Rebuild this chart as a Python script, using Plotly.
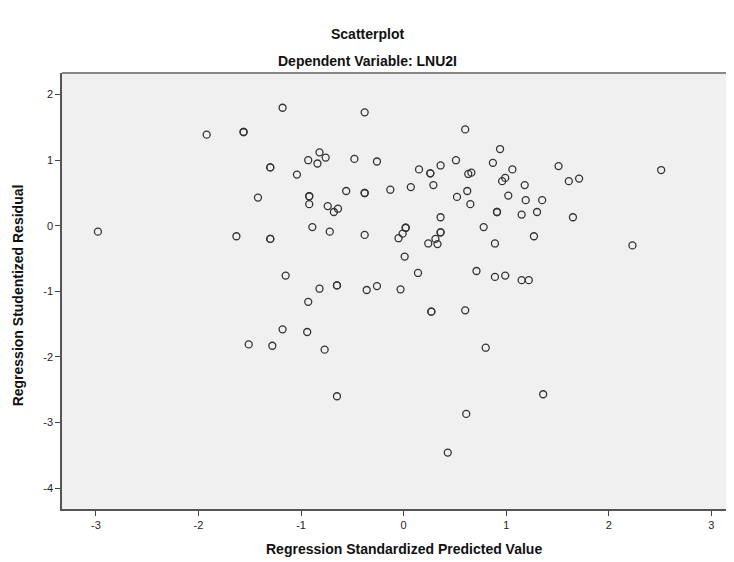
import plotly.graph_objects as go

# Regression Standardized Predicted Value
pred = [-2.98, -1.92, -1.63, -1.56, -1.56, -1.51, -1.42, -1.30, -1.30, -1.30,
        -1.30, -1.28, -1.18, -1.18, -1.15, -1.04, -0.93, -0.93, -0.94, -0.92,
        -0.92, -0.92, -0.89, -0.84, -0.82, -0.82, -0.77, -0.76, -0.74, -0.72,
        -0.68, -0.64, -0.65, -0.65, -0.65, -0.56, -0.48, -0.38, -0.38, -0.38,
        -0.38, -0.36, -0.26, -0.26, -0.13, -0.05, -0.03, -0.01, 0.02, 0.02,
        0.01, 0.07, 0.14, 0.15, 0.24, 0.26, 0.26, 0.27, 0.27, 0.29,
        0.31, 0.33, 0.36, 0.36, 0.36, 0.36, 0.43, 0.51, 0.52, 0.60,
        0.60, 0.61, 0.62, 0.63, 0.66, 0.65, 0.71, 0.78, 0.80, 0.87,
        0.89, 0.89, 0.91, 0.91, 0.94, 0.96, 0.99, 0.99, 1.02, 1.06,
        1.15, 1.15, 1.18, 1.19, 1.22, 1.27, 1.30, 1.35, 1.36, 1.51,
        1.61, 1.65, 1.71, 2.23, 2.51]

# Regression Studentized Residual
resid = [-0.09, 1.39, -0.16, 1.43, 1.43, -1.81, 0.43, 0.89, 0.89, -0.20,
         -0.20, -1.83, 1.80, -1.58, -0.76, 0.78, 1.00, -1.16, -1.62, 0.45,
         0.45, 0.33, -0.02, 0.95, 1.12, -0.96, -1.89, 1.04, 0.30, -0.09,
         0.21, 0.26, -0.91, -0.91, -2.60, 0.53, 1.02, 1.73, 0.50, 0.50,
         -0.14, -0.98, 0.98, -0.92, 0.55, -0.19, -0.97, -0.12, -0.03, -0.03,
         -0.47, 0.59, -0.72, 0.86, -0.27, 0.80, 0.80, -1.31, -1.31, 0.62,
         -0.20, -0.28, 0.92, 0.13, -0.10, -0.10, -3.46, 1.00, 0.44, 1.47,
         -1.29, -2.87, 0.53, 0.79, 0.81, 0.33, -0.69, -0.02, -1.86, 0.96,
         -0.27, -0.78, 0.21, 0.21, 1.17, 0.68, 0.73, -0.76, 0.46, 0.86,
         0.17, -0.83, 0.62, 0.39, -0.83, -0.16, 0.21, 0.39, -2.57, 0.91,
         0.68, 0.13, 0.72, -0.30, 0.85]

x_ticks = [-3, -2, -1, 0, 1, 2, 3]
y_ticks = [-4, -3, -2, -1, 0, 1, 2]

FONT = "Liberation Sans, Arial, sans-serif"

fig = go.Figure()
fig.add_trace(go.Scatter(
    x=pred, y=resid, mode="markers",
    marker=dict(symbol="circle-open", size=7, color="#333333",
                line=dict(width=1.3, color="#333333")),
    showlegend=False, hoverinfo="x+y",
))

fig.update_layout(
    width=726, height=554,
    margin=dict(l=54, r=0, t=65, b=53),
    paper_bgcolor="white",
    plot_bgcolor="#F0F0F0",
    font=dict(family=FONT, size=11, color="#222222"),
    xaxis=dict(range=[-3.33, 3.22], tickvals=x_ticks, ticktext=[str(v) for v in x_ticks],
               showgrid=False, zeroline=False, showline=True, linecolor="#555555",
               linewidth=1.5, ticks="outside", ticklen=5, tickcolor="#444444",
               tickfont=dict(family=FONT, size=11, color="#222222")),
    yaxis=dict(range=[-4.32, 2.33], tickvals=y_ticks, ticktext=[str(v) for v in y_ticks],
               showgrid=False, zeroline=False, showline=True, linecolor="#555555",
               linewidth=1.5, ticks="outside", ticklen=5, tickcolor="#444444",
               tickfont=dict(family=FONT, size=11, color="#222222")),
    shapes=[dict(type="line", xref="paper", yref="paper", x0=0, x1=1, y0=1, y1=1,
                 line=dict(color="#888888", width=2))],
    annotations=[
        dict(text="<b>Scatterplot</b>", xref="paper", yref="paper", x=0.454, y=1.089,
             xanchor="center", yanchor="middle", showarrow=False,
             font=dict(family=FONT, size=14, color="#111111")),
        dict(text="<b>Dependent Variable: LNU2I</b>", xref="paper", yref="paper", x=0.454, y=1.028,
             xanchor="center", yanchor="middle", showarrow=False,
             font=dict(family=FONT, size=14, color="#111111")),
        dict(text="<b>Regression Standardized Predicted Value</b>", xref="paper", yref="paper",
             x=0.509, y=-0.092, xanchor="center", yanchor="middle", showarrow=False,
             font=dict(family=FONT, size=14, color="#111111")),
        dict(text="<b>Regression Studentized Residual</b>", xref="paper", yref="paper",
             x=-0.0655, y=0.49, xanchor="center", yanchor="middle", showarrow=False,
             textangle=-90, font=dict(family=FONT, size=14, color="#111111")),
    ],
)

fig.write_html("out.html")
